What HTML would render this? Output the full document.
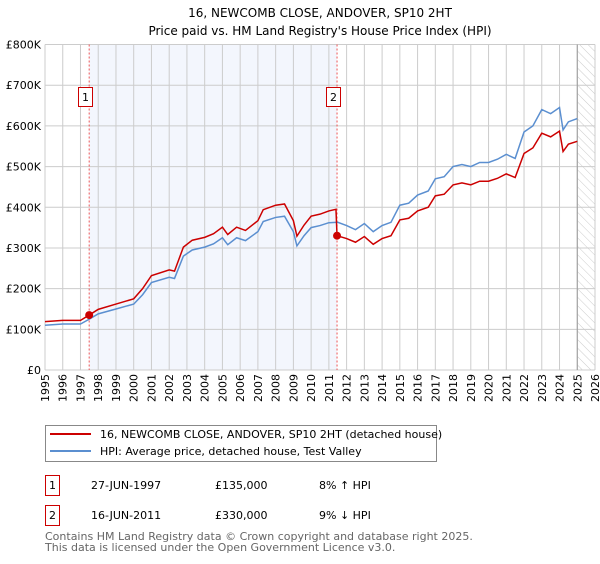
<!DOCTYPE html>
<html><head><meta charset="utf-8"><style>
body{margin:0;background:#fff;font-family:"DejaVu Sans","Liberation Sans",sans-serif;}
svg text{font-family:"DejaVu Sans","Liberation Sans",sans-serif;}
</style></head><body>
<svg id="chart" width="600" height="560" xmlns="http://www.w3.org/2000/svg">
<defs><pattern id="hatch" width="6" height="6" patternUnits="userSpaceOnUse" patternTransform="rotate(-45)"><line x1="0" y1="0" x2="0" y2="6" stroke="#ccc" stroke-width="1"/></pattern></defs>
<text x="320" y="17" text-anchor="middle" font-size="12">16, NEWCOMB CLOSE, ANDOVER, SP10 2HT</text>
<text x="320" y="35" text-anchor="middle" font-size="12">Price paid vs. HM Land Registry's House Price Index (HPI)</text>
<g id="plot"></g>
<g>
<rect x="45.5" y="425.5" width="391" height="36" fill="#fff" stroke="#888"/>
<line x1="50" y1="434" x2="91" y2="434" stroke="#cc0000" stroke-width="2"/>
<text x="100" y="438" font-size="11">16, NEWCOMB CLOSE, ANDOVER, SP10 2HT (detached house)</text>
<line x1="50" y1="451" x2="91" y2="451" stroke="#5b8fd0" stroke-width="2"/>
<text x="100" y="455" font-size="11">HPI: Average price, detached house, Test Valley</text>
</g>
<g font-size="11">
<rect x="45.5" y="475.5" width="14" height="20" fill="#fff" stroke="#cc0000"/><text x="52.5" y="489" text-anchor="middle">1</text>
<text x="91" y="489">27-JUN-1997</text><text x="215" y="489">£135,000</text><text x="319" y="489">8% ↑ HPI</text>
<rect x="45.5" y="505.5" width="14" height="20" fill="#fff" stroke="#cc0000"/><text x="52.5" y="519" text-anchor="middle">2</text>
<text x="91" y="519">16-JUN-2011</text><text x="215" y="519">£330,000</text><text x="319" y="519">9% ↓ HPI</text>
</g>
<text x="45" y="540" font-size="11" fill="#666">Contains HM Land Registry data © Crown copyright and database right 2025.</text>
<text x="45" y="551" font-size="11" fill="#666">This data is licensed under the Open Government Licence v3.0.</text>
</svg>
<script>
const hpiDates=[1995,1996,1997,1997.5,1998,1999,2000,2000.5,2001,2002,2002.3,2002.8,2003.3,2004,2004.5,2005,2005.3,2005.8,2006.3,2007,2007.3,2008,2008.5,2009,2009.2,2009.6,2010,2010.5,2011,2011.5,2012,2012.5,2013,2013.5,2014,2014.5,2015,2015.5,2016,2016.6,2017,2017.5,2018,2018.5,2019,2019.5,2020,2020.5,2021,2021.5,2022,2022.5,2023,2023.5,2024,2024.2,2024.5,2025];
const hpiValues=[110,113,113,125,138,150,162,185,215,228,225,280,295,302,310,325,308,325,318,340,365,375,378,340,305,330,350,355,362,363,355,345,360,340,355,363,405,410,430,440,470,475,500,505,500,510,510,518,530,520,585,600,640,630,645,590,610,618];
const priceDates=[1995,1996,1997,1997.49,1998,1999,2000,2000.5,2001,2002,2002.3,2002.8,2003.3,2004,2004.5,2005,2005.3,2005.8,2006.3,2007,2007.3,2008,2008.5,2009,2009.2,2009.6,2010,2010.5,2011,2011.4,2011.46,2012,2012.5,2013,2013.5,2014,2014.5,2015,2015.5,2016,2016.6,2017,2017.5,2018,2018.5,2019,2019.5,2020,2020.5,2021,2021.5,2022,2022.5,2023,2023.5,2024,2024.2,2024.5,2025];
const priceValues=[119,122,122,135,149,162,175,200,232,246,243,302,319,326,335,351,333,351,343,367,394,405,408,367,329,356,378,383,391,395,330,323,314,328,309,323,330,369,373,391,400,428,432,455,460,455,464,464,471,482,473,532,546,582,573,587,537,555,562];
const saleDates=[1997.49,2011.46];
const saleValues=[135,330];
const saleLabels=["1","2"];
const yTicks=[0,100,200,300,400,500,600,700,800];
const yTickLabels=["£0","£100K","£200K","£300K","£400K","£500K","£600K","£700K","£800K"];
const xTicks=[1995,1996,1997,1998,1999,2000,2001,2002,2003,2004,2005,2006,2007,2008,2009,2010,2011,2012,2013,2014,2015,2016,2017,2018,2019,2020,2021,2022,2023,2024,2025,2026];

const L=45,R=595,T=44.5,B=370;
const x=d=>L+(d-1995)/(2026-1995)*(R-L);
const y=v=>B-v/800*(B-T);
const NS="http://www.w3.org/2000/svg";
const g=document.getElementById('plot');
function mk(tag,attrs){const e=document.createElementNS(NS,tag);for(const k in attrs)e.setAttribute(k,attrs[k]);g.appendChild(e);return e;}
let e;
e=mk('rect',{x:x(saleDates[0]),y:T,width:x(saleDates[1])-x(saleDates[0]),height:B-T,fill:'#f3f6fd'});


e=mk('rect',{x:x(2025),y:T,width:R-x(2025),height:B-T,fill:'url(#hatch)'});


xTicks.forEach(t=>{
 e=mk('line',{x1:x(t),x2:x(t),y1:T,y2:B,stroke:'#cccccc','stroke-width':1});
 
 
 e=mk('text',{x:0,y:0,'font-size':11,'text-anchor':'end',transform:`translate(${x(t)+4},${B+4}) rotate(-90)`});
 e.textContent=t;
 
 
});
yTicks.forEach((t,i)=>{
 e=mk('line',{x1:L,x2:R,y1:y(t),y2:y(t),stroke:'#cccccc','stroke-width':1});
 
 
 e=mk('text',{x:L-4,y:y(t)+4,'font-size':11,'text-anchor':'end'});
 e.textContent=yTickLabels[i];
 
 
});
e=mk('line',{x1:x(2025),x2:x(2025),y1:T,y2:B,stroke:'#999','stroke-width':1});


saleDates.forEach((d,i)=>{
 e=mk('line',{x1:x(d),x2:x(d),y1:T,y2:B,stroke:'#ee5555','stroke-width':1,'stroke-dasharray':'2,2'});
 
 
 e=mk('rect',{x:Math.round(x(d))-10.5,y:87.5,width:14,height:19,fill:'#fff',stroke:'#cc0000'});
 
 
 e=mk('text',{x:Math.round(x(d))-3.5,y:101,'font-size':11,'text-anchor':'middle'});
 e.textContent=saleLabels[i];
 
 
});
e=mk('polyline',{points:hpiDates.map((d,i)=>x(d)+','+y(hpiValues[i])).join(' '),fill:'none',stroke:'#5b8fd0','stroke-width':1.5});


e=mk('polyline',{points:priceDates.map((d,i)=>x(d)+','+y(priceValues[i])).join(' '),fill:'none',stroke:'#cc0000','stroke-width':1.5});


saleDates.forEach((d,i)=>{
 e=mk('circle',{cx:x(d),cy:y(saleValues[i]),r:4,fill:'#cc0000'});
 
 
});
</script>
</body></html>
